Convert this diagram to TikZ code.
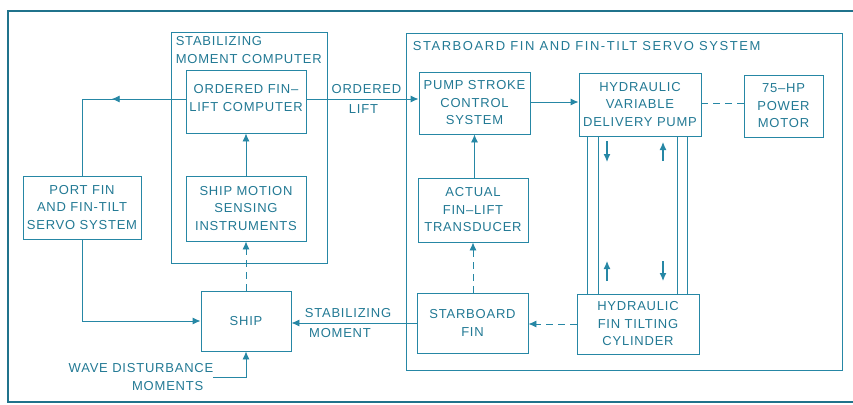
\documentclass[tikz,border=0pt]{standalone}
\usepackage{fontspec}
\usepackage{tikz}
\usetikzlibrary{arrows.meta,positioning,calc,decorations.markings}
\newfontfamily\labfont[LetterSpace=6]{Liberation Sans}
\newfontfamily\widefont[LetterSpace=12]{Liberation Sans}
\newcommand{\labtext}{\labfont\fontsize{13}{17.5}\selectfont}
\definecolor{ink}{RGB}{38,135,165}

\begin{document}
\begin{tikzpicture}[x=1pt, y=-1pt,
  box/.style={draw=ink, line width=0.9pt, inner sep=2pt, align=center,
              font=\labtext, text=ink!90!black},
  group/.style={draw=ink, line width=0.8pt},
  arr/.style={-{Latex[length=8pt,width=7pt]}, draw=ink, line width=0.9pt},
  darr/.style={arr, dash pattern=on 7pt off 5pt},
  pipe/.style={draw=ink, line width=0.9pt},
  note/.style={font=\labtext, text=ink!90!black, align=center, inner sep=0pt}
]
  \useasboundingbox (0,0) rectangle (853,404);
  % outer frame
  \draw[ink!85!black, line width=1.5pt] (853,11) -- (8,11) -- (8,402) -- (853,402);

  % stabilizing moment computer
  \node[group, minimum width=156pt, minimum height=231pt] (smc) at (249,147.5) {};
  \node[note, anchor=north west, align=left] (smctitle)
    at ([shift={(5,5)}]smc.north west) {STABILIZING\\MOMENT COMPUTER};
  \node[box, minimum width=120pt, minimum height=63pt] (ofl) at (246,101.5) {};
  \node[note, anchor=north] (ofltext) at ([yshift=-15pt]ofl.north)
    {ORDERED FIN–\\LIFT COMPUTER};
  \node[box, minimum width=120pt, minimum height=65pt] (sens) at (246,208.5)
    {SHIP MOTION\\SENSING\\INSTRUMENTS};

  \node[box, minimum width=118pt, minimum height=63pt] (port) at (82,207.5)
    {PORT FIN\\AND FIN-TILT\\SERVO SYSTEM};
  \node[box, minimum width=90pt, minimum height=60pt] (ship) at (246,321) {SHIP};
  \node[note, align=right] (wave) at (141,377)
    {WAVE DISTURBANCE\\MOMENTS\hspace*{10pt}};

  % starboard fin and fin-tilt servo system
  \node[group, minimum width=436pt, minimum height=337pt] (stbd) at (624,201.5) {};
  \node[note, anchor=north west, font=\widefont\fontsize{13}{17.5}\selectfont] (stbdtitle)
    at ([shift={(7,9)}]stbd.north west) {STARBOARD FIN AND FIN-TILT SERVO SYSTEM};
  \node[box, minimum width=111pt, minimum height=62pt] (pscs) at (474.5,103)
    {PUMP STROKE\\CONTROL\\SYSTEM};
  \node[box, minimum width=122pt, minimum height=63pt] (hvdp) at (640,104.5)
    {HYDRAULIC\\VARIABLE\\DELIVERY PUMP};
  \node[box, minimum width=79pt, minimum height=62pt] (motor) at (783.5,106)
    {75–HP\\POWER\\MOTOR};
  \node[box, minimum width=110pt, minimum height=64pt] (afl) at (473,210)
    {ACTUAL\\FIN–LIFT\\TRANSDUCER};
  \node[box, minimum width=111pt, minimum height=60pt] (sfin) at (472.5,323)
    {STARBOARD\\FIN};
  \node[box, minimum width=122pt, minimum height=60pt] (hftc) at (638,324)
    {HYDRAULIC\\FIN TILTING\\CYLINDER};

  % signal paths
  \draw[arr] (sens) -- (ofl);
  \draw[darr] (ship) -- (sens);
  \draw[arr] ([yshift=2.5pt]ofl.east) -- ([yshift=2.5pt]ofl.east -| pscs.west)
    node[note, midway, above=5pt, xshift=4pt] {ORDERED}
    node[note, midway, below=5pt, xshift=1pt] {LIFT};
  \draw[arr] ([yshift=1pt]pscs.east) -- ([yshift=1pt]pscs.east -| hvdp.west);
  \draw[pipe, dash pattern=on 7pt off 5pt] ([yshift=1.5pt]hvdp.east) -- ([yshift=1.5pt]hvdp.east -| motor.west);
  \draw[arr] (afl.north -| pscs.south) -- (pscs.south);
  \draw[darr] (sfin.north -| afl.south) -- (afl.south);
  \draw[darr] (hftc.west) -- (hftc.west -| sfin.east);
  \draw[arr] (sfin.west) -- (sfin.west -| ship.east)
    node[note, midway, above=5pt, xshift=-6pt] {STABILIZING}
    node[note, midway, below=5pt, xshift=-14pt] {MOMENT};
  \draw[pipe, postaction={decorate, decoration={markings,
      mark=at position 0.41 with {\arrow{Latex[length=8pt,width=7pt]}}}}]
    ([yshift=2.5pt]ofl.west) -| (port.north);
  \draw[arr] (port.south) |- (ship.west);
  \draw[arr] (wave.east) -| (ship.south);

  % hydraulic lines
  \coordinate (po1) at ([xshift=9pt]hvdp.south west);
  \coordinate (pi1) at ([xshift=20pt]hvdp.south west);
  \coordinate (pi2) at ([xshift=-24pt]hvdp.south east);
  \coordinate (po2) at ([xshift=-14pt]hvdp.south east);
  \foreach \p in {po1,pi1,pi2,po2}
    \draw[pipe] (\p) -- (\p |- hftc.north);
  \draw[arr, line width=1.2pt] (607,141) -- (607,162);
  \draw[arr, line width=1.2pt] (663,161) -- (663,142);
  \draw[arr, line width=1.2pt] (607,281) -- (607,261);
  \draw[arr, line width=1.2pt] (663,261) -- (663,281);
\end{tikzpicture}
\end{document}
